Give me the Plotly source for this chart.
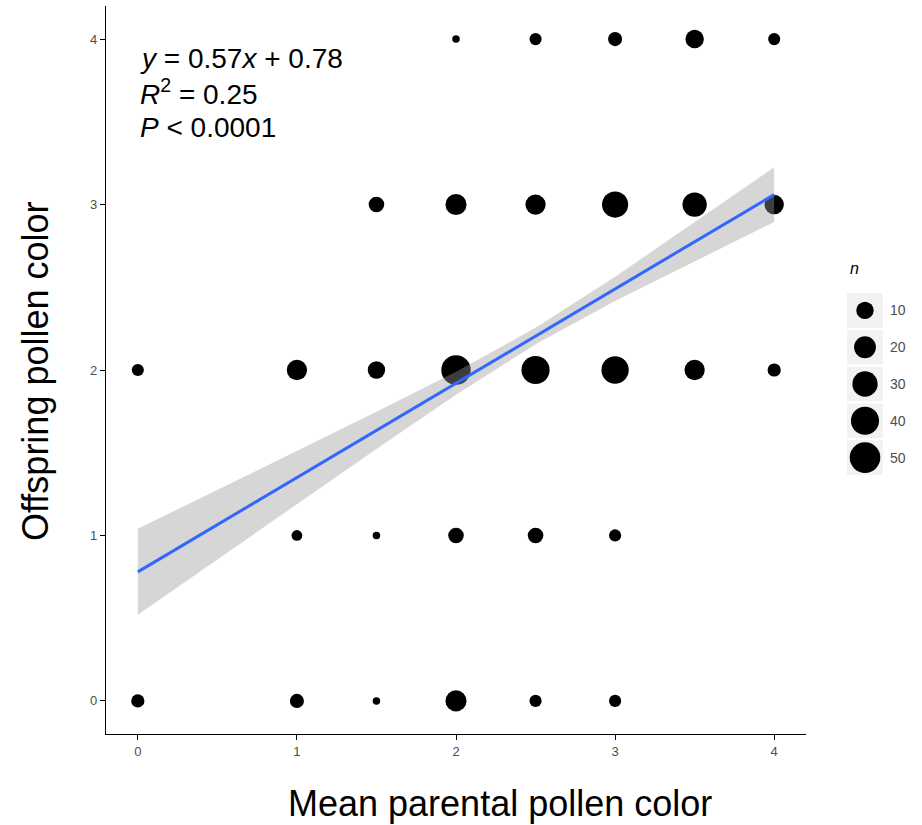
import numpy as np
import plotly.graph_objects as go

# ---- data ----
parent_x = [2, 2.5, 3, 3.5, 4,
            1.5, 2, 2.5, 3, 3.5, 4,
            0, 1, 1.5, 2, 2.5, 3, 3.5, 4,
            1, 1.5, 2, 2.5, 3,
            0, 1, 1.5, 2, 2.5, 3]
offspring_y = [4, 4, 4, 4, 4,
               3, 3, 3, 3, 3, 3,
               2, 2, 2, 2, 2, 2, 2, 2,
               1, 1, 1, 1, 1,
               0, 0, 0, 0, 0, 0]
count_n = [1, 3, 5, 12, 3,
           7, 18, 16, 33, 27, 14,
           3, 16, 10, 45, 40, 37, 16, 4,
           2, 1, 7, 7, 3,
           4, 5, 1, 18, 3, 3]

fit_slope = 0.57
fit_intercept = 0.78
band_x = [0, 0.5, 1, 1.5, 2, 2.5, 3, 3.5, 4]
band_lower = [0.52, 0.855, 1.19, 1.523, 1.85, 2.155, 2.417, 2.658, 2.895]
band_upper = [1.04, 1.275, 1.51, 1.747, 1.99, 2.255, 2.563, 2.892, 3.225]

legend_n = [10, 20, 30, 40, 50]
x_ticks = [0, 1, 2, 3, 4]
y_ticks = [0, 1, 2, 3, 4]


def diam(n):
    n = np.asarray(n, dtype=float)
    return 7.5 + 3.3 * np.sqrt(np.clip(n - 1, 0, None))


FONT = "Liberation Sans, Arial, sans-serif"
W, H = 922, 825
ML, MR, MT, MB = 106, 20, 6, 91
PW = W - ML - MR
PH = H - MT - MB
main_right = (806 - ML) / PW


def px_x(px):
    return (px - ML) / PW


def px_y(py):
    return 1 - (py - MT) / PH


fig = go.Figure()

# points
fig.add_trace(go.Scatter(
    x=parent_x, y=offspring_y, mode="markers",
    marker=dict(size=diam(count_n), sizemode="diameter", color="black",
                opacity=1, line=dict(width=0)),
    showlegend=False, hoverinfo="skip"))

# confidence band
fig.add_trace(go.Scatter(x=band_x, y=band_lower, mode="lines", line=dict(width=0),
                         showlegend=False, hoverinfo="skip"))
fig.add_trace(go.Scatter(x=band_x, y=band_upper, mode="lines", line=dict(width=0),
                         fill="tonexty", fillcolor="rgba(153,153,153,0.4)",
                         showlegend=False, hoverinfo="skip"))
# fit line
line_x = [band_x[0], band_x[-1]]
line_y = [fit_intercept + fit_slope * v for v in line_x]
fig.add_trace(go.Scatter(x=line_x, y=line_y, mode="lines",
                         line=dict(color="#3366FF", width=3),
                         showlegend=False, hoverinfo="skip"))

# manual size legend on secondary axes
leg_y = [0, 1, 2, 3, 4]
fig.add_trace(go.Scatter(
    x=[0] * len(legend_n), y=leg_y, mode="markers",
    marker=dict(size=diam(legend_n), sizemode="diameter", color="black",
                opacity=1, line=dict(width=0)),
    xaxis="x2", yaxis="y2", showlegend=False, hoverinfo="skip", cliponaxis=False))

for i in range(len(legend_n)):
    fig.add_shape(type="rect", xref="x2", yref="y2",
                  x0=-0.5, x1=0.5, y0=leg_y[i] - 0.47, y1=leg_y[i] + 0.47,
                  fillcolor="#F2F2F2", line=dict(width=0), layer="below")
    fig.add_annotation(text=str(legend_n[i]), xref="x2", yref="y2", x=0.5, y=leg_y[i],
                       xanchor="left", yanchor="middle", xshift=5, showarrow=False,
                       font=dict(family=FONT, size=14, color="#4D4D4D"))

fig.add_annotation(text="<i>n</i>", xref="paper", yref="paper", x=px_x(848), y=px_y(268),
                   xanchor="left", yanchor="middle", showarrow=False,
                   font=dict(family=FONT, size=16, color="black"))

# equation text
eq_lines = ["<i>y</i> = 0.57<i>x</i> + 0.78", "<i>R</i><sup>2</sup> = 0.25", "<i>P</i> < 0.0001"]
eq_y = [3.885, 3.68, 3.468]
for t, yy in zip(eq_lines, eq_y):
    fig.add_annotation(text=t, x=0.0, y=yy, xref="x", yref="y", xanchor="left",
                       yanchor="middle", showarrow=False,
                       font=dict(family=FONT, size=28, color="black"))

# axis titles
fig.add_annotation(text="Mean parental pollen color", xref="paper", yref="paper",
                   x=px_x(500), y=px_y(803), xanchor="center", yanchor="middle",
                   showarrow=False, font=dict(family=FONT, size=36, color="black"))
fig.add_annotation(text="Offspring pollen color", xref="paper", yref="paper",
                   x=px_x(35), y=px_y(371), xanchor="center", yanchor="middle",
                   textangle=-90, showarrow=False,
                   font=dict(family=FONT, size=36, color="black"))

axis_common = dict(showline=True, linecolor="black", linewidth=1.3, ticks="outside",
                   ticklen=5, tickcolor="black", tickwidth=1.3, showgrid=False, zeroline=False,
                   automargin=False,
                   tickfont=dict(family=FONT, size=13, color="#4D4D4D"))

fig.update_layout(
    width=W, height=H, plot_bgcolor="white", paper_bgcolor="white",
    margin=dict(l=ML, r=MR, t=MT, b=MB, autoexpand=False),
    xaxis=dict(range=[-0.2, 4.2], tickvals=x_ticks, domain=[0, main_right], **axis_common),
    yaxis=dict(range=[-0.2, 4.2], tickvals=y_ticks, domain=[0, 1], **axis_common),
    xaxis2=dict(domain=[px_x(847), px_x(883)], range=[-0.5, 0.5], visible=False,
                anchor="y2"),
    yaxis2=dict(domain=[px_y(476), px_y(292)], range=[4.5, -0.5], visible=False, anchor="x2"),
    font=dict(family=FONT),
)

fig.write_html("out.html", config={"displayModeBar": False},
               post_script="document.body.style.margin='0';document.body.style.overflow='hidden';")
